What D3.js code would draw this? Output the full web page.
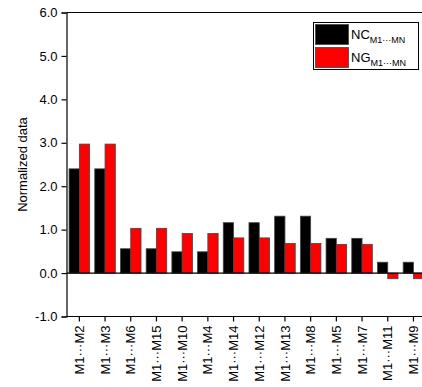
<!DOCTYPE html>
<head>
<meta charset="utf-8">
<style>
body { margin: 0; background: #fff; }
text { font-family: "Liberation Sans", Arial, sans-serif; fill: #000; }
</style>
</head>
<body>
<script src="https://cdn.jsdelivr.net/npm/d3@7"></script>
<script>

// data
var categories = ["M2", "M3", "M6", "M15", "M10", "M4", "M14", "M12", "M13", "M8", "M5", "M7", "M11", "M9"];
var ncValues = [2.4, 2.4, 0.56, 0.56, 0.49, 0.49, 1.16, 1.16, 1.31, 1.31, 0.8, 0.8, 0.25, 0.25];
var ngValues = [2.97, 2.97, 1.03, 1.03, 0.91, 0.91, 0.81, 0.81, 0.68, 0.68, 0.66, 0.66, -0.13, -0.13];
var seriesNames = ["NC", "NG"];
var seriesColors = ["#000000", "#ff0000"];
var yTicks = [-1, 0, 1, 2, 3, 4, 5, 6];

var width = 422,
    height = 387;

// plot edges (right edge runs past the window, as in the reference)
var plotLeft = 66.5, plotRight = 426.3, plotTop = 12.5, plotBottom = 316.5;

var svg = d3.select("body").append("svg")
    .attr("width", width)
    .attr("height", height);

var x0 = d3.scaleBand()
    .domain(categories)
    .range([plotLeft, plotRight])
    .paddingInner(0.2)
    .paddingOuter(0.1);

var x1 = d3.scaleBand()
    .domain(seriesNames)
    .range([0, x0.bandwidth()]);

var y = d3.scaleLinear()
    .domain([-1, 6])
    .range([plotBottom, plotTop]);

var rows = categories.map(function(c, i) {
  return {cat: c, values: [ncValues[i], ngValues[i]]};
});

// bars
var groups = svg.append("g")
    .selectAll("g")
    .data(rows)
    .enter().append("g")
    .attr("transform", function(d) { return "translate(" + x0(d.cat) + ",0)"; });

groups.selectAll("rect")
    .data(function(d) { return d.values.map(function(v, i) { return {name: seriesNames[i], value: v, i: i}; }); })
    .enter().append("rect")
    .attr("x", function(d) { return x1(d.name); })
    .attr("width", x1.bandwidth())
    .attr("y", function(d) { return y(Math.max(0, d.value)); })
    .attr("height", function(d) { return Math.abs(y(d.value) - y(0)); })
    .attr("fill", function(d) { return seriesColors[d.i]; })
    .attr("stroke", "#444")
    .attr("stroke-width", 0.8);

// zero line
svg.append("line")
    .attr("x1", plotLeft).attr("x2", width)
    .attr("y1", y(0)).attr("y2", y(0))
    .attr("stroke", "#000").attr("stroke-width", 1.2);

// top line
svg.append("line")
    .attr("x1", plotLeft).attr("x2", width)
    .attr("y1", plotTop).attr("y2", plotTop)
    .attr("stroke", "#000").attr("stroke-width", 1);

// y axis
var fmt = d3.format(".1f");
var yAxis = svg.append("g")
    .attr("transform", "translate(" + plotLeft + ",0)")
    .call(d3.axisLeft(y).tickValues(yTicks).tickSize(5).tickPadding(4)
      .tickFormat(function(d) { return fmt(d).replace("\u2212", "-"); }));
yAxis.selectAll("text").style("font-size", "13px").style("font-family", "Liberation Sans, Arial, sans-serif");
yAxis.selectAll("line, path").attr("stroke", "#000").attr("stroke-width", 1.2);

// x axis
var xAxis = svg.append("g")
    .attr("transform", "translate(0," + plotBottom + ")")
    .call(d3.axisBottom(x0).tickSize(5).tickSizeOuter(0)
      .tickFormat(function(d) { return "M1\u00B7\u00B7\u00B7" + d; }));
xAxis.select("path").attr("d", "M" + plotLeft + ",0H" + width);
xAxis.selectAll("line, path").attr("stroke", "#000").attr("stroke-width", 1.2);
xAxis.selectAll("text")
    .style("font-size", "13px")
    .style("font-family", "Liberation Sans, Arial, sans-serif")
    .attr("text-anchor", "end")
    .attr("transform", "rotate(-90)")
    .attr("x", -9)
    .attr("y", 0)
    .attr("dy", "0.35em");

// y label
svg.append("text")
    .attr("transform", "translate(27," + ((plotTop + plotBottom) / 2) + ") rotate(-90)")
    .attr("text-anchor", "middle")
    .style("font-size", "13px")
    .text("Normalized data");

// legend
var legend = svg.append("g");
legend.append("rect")
    .attr("x", 313.5).attr("y", 22.5)
    .attr("width", 105).attr("height", 47)
    .attr("fill", "#fff").attr("stroke", "#000").attr("stroke-width", 1);

seriesNames.forEach(function(name, i) {
  var ly = 24.5 + i * 23;
  legend.append("rect")
      .attr("x", 315.5).attr("y", ly)
      .attr("width", 33).attr("height", 20)
      .attr("fill", seriesColors[i])
      .attr("stroke", "#444").attr("stroke-width", 0.8);
  var t = legend.append("text")
      .attr("x", 351).attr("y", ly + 14)
      .style("font-size", "13px");
  t.append("tspan").text(name);
  t.append("tspan").attr("dy", 4).style("font-size", "9px").text("M1\u00B7\u00B7\u00B7MN");
});

</script>
</body>
</html>
